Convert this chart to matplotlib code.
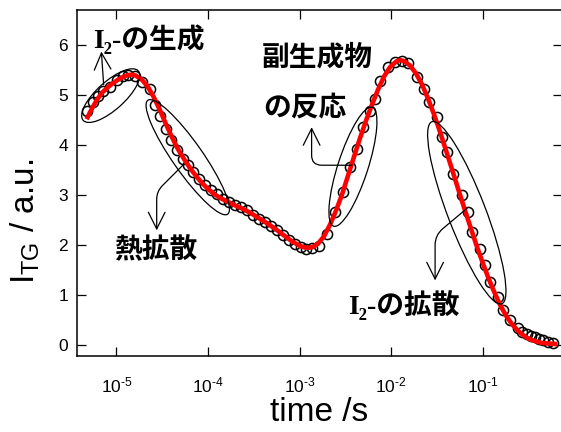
import numpy as np
import matplotlib
matplotlib.use('Agg')
import matplotlib.pyplot as plt
from matplotlib.patches import Ellipse
from matplotlib.transforms import ScaledTranslation
from matplotlib.ticker import NullLocator

# ---------------- data (log10 of time in s, signal in a.u.) ----------------
log_t = [-5.325, -5.259, -5.204, -5.150, -5.073, -4.997, -4.931, -4.877, -4.800, -4.723,
         -4.636, -4.581, -4.527, -4.461, -4.407, -4.341, -4.275, -4.221, -4.166, -4.101,
         -4.035, -3.969, -3.904, -3.838, -3.773, -3.707, -3.642, -3.576, -3.510, -3.445,
         -3.379, -3.314, -3.248, -3.183, -3.117, -3.051, -2.986, -2.931, -2.866, -2.789,
         -2.702, -2.614, -2.527, -2.450, -2.374, -2.308, -2.232, -2.177, -2.122, -2.035,
         -1.958, -1.882, -1.816, -1.718, -1.642, -1.587, -1.499, -1.445, -1.390, -1.325,
         -1.226, -1.161, -1.117, -1.030, -0.975, -0.920, -0.833, -0.778, -0.702, -0.614,
         -0.570, -0.516, -0.472, -0.428, -0.385, -0.341, -0.286, -0.232]
itg = [4.68, 4.85, 4.98, 5.08, 5.15, 5.30, 5.38, 5.40, 5.38, 5.25,
       5.12, 4.80, 4.58, 4.32, 4.10, 3.90, 3.72, 3.60, 3.45, 3.32,
       3.20, 3.10, 3.01, 2.92, 2.86, 2.80, 2.75, 2.69, 2.60, 2.52,
       2.46, 2.38, 2.29, 2.20, 2.10, 2.02, 1.96, 1.92, 1.94, 1.98,
       2.22, 2.65, 3.05, 3.55, 3.92, 4.35, 4.68, 4.92, 5.28, 5.55,
       5.66, 5.67, 5.64, 5.35, 5.12, 4.85, 4.55, 4.15, 3.85, 3.42,
       2.99, 2.65, 2.26, 1.92, 1.59, 1.26, 0.96, 0.69, 0.49, 0.33,
       0.25, 0.22, 0.17, 0.15, 0.11, 0.09, 0.06, 0.04]

fit_log_t = [-5.314, -5.259, -5.204, -5.150, -5.073, -4.997, -4.931, -4.877, -4.833, -4.789,
             -4.723, -4.658, -4.592, -4.527, -4.461, -4.396, -4.330, -4.264, -4.199, -4.133,
             -4.068, -4.002, -3.937, -3.871, -3.784, -3.696, -3.609, -3.521, -3.434, -3.346,
             -3.259, -3.172, -3.084, -2.997, -2.931, -2.866, -2.800, -2.734, -2.669, -2.603,
             -2.538, -2.472, -2.406, -2.341, -2.275, -2.210, -2.144, -2.079, -2.013, -1.947,
             -1.904, -1.860, -1.794, -1.729, -1.663, -1.598, -1.532, -1.466, -1.401, -1.335,
             -1.270, -1.204, -1.138, -1.073, -1.007, -0.942, -0.876, -0.811, -0.745, -0.680,
             -0.614, -0.548, -0.483, -0.417, -0.352, -0.210]
fit_itg = [4.55, 4.75, 4.92, 5.05, 5.18, 5.28, 5.35, 5.39, 5.40, 5.38,
           5.30, 5.16, 4.95, 4.70, 4.42, 4.16, 3.92, 3.72, 3.54, 3.38,
           3.24, 3.12, 3.02, 2.94, 2.86, 2.78, 2.71, 2.62, 2.52, 2.42,
           2.31, 2.19, 2.07, 1.98, 1.94, 1.95, 2.02, 2.17, 2.40, 2.68,
           3.00, 3.38, 3.76, 4.13, 4.48, 4.80, 5.10, 5.36, 5.55, 5.66,
           5.69, 5.67, 5.58, 5.42, 5.20, 4.92, 4.60, 4.25, 3.88, 3.50,
           3.12, 2.74, 2.37, 2.01, 1.67, 1.35, 1.06, 0.80, 0.58, 0.41,
           0.28, 0.18, 0.11, 0.07, 0.04, 0.02]

x_ticks = [1e-5, 1e-4, 1e-3, 1e-2, 1e-1]
x_tick_labels = [r'$\mathdefault{10^{\text{-5}}}$', r'$\mathdefault{10^{\text{-4}}}$',
                 r'$\mathdefault{10^{\text{-3}}}$', r'$\mathdefault{10^{\text{-2}}}$',
                 r'$\mathdefault{10^{\text{-1}}}$']
y_ticks = [0, 1, 2, 3, 4, 5, 6]

# annotations: (text, log10 t, y)
labels = [("I\u2082-の生成", -5.259, 6.10),
          ("副生成物", -3.412, 5.73),
          ("の反応", -3.401, 4.73),
          ("熱拡散", -5.030, 1.87),
          ("I\u2082-の拡散", -2.471, 0.79)]
# ellipses: (log10 t centre, y centre, width in, height in, angle)
ellipses = [(-5.062, 4.98, 0.74, 0.28, 42),
            (-4.221, 3.75, 1.39, 0.30, -55),
            (-2.418, 3.56, 1.25, 0.30, 72),
            (-1.175, 2.64, 1.95, 0.38, -69)]
# arrows: (start log t, start y, tip log t, tip y, connection style)
arrows = [(-5.139, 5.20, -5.164, 5.86, "arc3"),
          (-4.275, 3.59, -4.560, 2.29, "angle,angleA=45,angleB=90,rad=8"),
          (-2.428, 3.59, -2.869, 4.35, "angle,angleA=0,angleB=90,rad=10"),
          (-1.172, 2.73, -1.521, 1.29, "angle,angleA=40,angleB=90,rad=10")]

plt.rcParams['font.family'] = ['Liberation Sans', 'DejaVu Sans']
plt.rcParams['mathtext.fontset'] = 'custom'
plt.rcParams['mathtext.rm'] = 'Liberation Sans'
plt.rcParams['mathtext.it'] = 'Liberation Sans:italic'
plt.rcParams['mathtext.bf'] = 'Liberation Sans:bold'

fig = plt.figure(figsize=(5.61, 4.32), dpi=100)
ax = fig.add_axes([77 / 561, 1 - 356 / 432, (561.8 - 77) / 561, (356 - 10) / 432])

ax.plot(10 ** np.array(log_t), itg, 'o', mfc='none', mec='black', ms=7.3, mew=1.1, zorder=2)
ax.plot(10 ** np.array(fit_log_t), fit_itg, '-', color='red', lw=3.3, zorder=3)

ax.set_xscale('log')
ax.set_xlim(10 ** -5.43, 10 ** -0.138)
ax.set_ylim(-0.22, 6.69)
ax.set_xticks(x_ticks)
ax.set_xticklabels(x_tick_labels)
ax.xaxis.set_minor_locator(NullLocator())
ax.set_yticks(y_ticks)
ax.tick_params(axis='both', direction='in', top=True, right=True, length=6.5, width=0.9,
               labelsize=12.5)
ax.tick_params(axis='x', pad=14)
ax.tick_params(axis='y', pad=6.5)
for s in ax.spines.values():
    s.set_linewidth(1.1)

ax.set_xlabel('time /s', fontsize=24, labelpad=1)
ax.set_ylabel(r'I$_{\mathdefault{TG}}$ / a.u.', fontsize=24)
ax.yaxis.set_label_coords(-0.072, 0.39)

jp_fam = ['Liberation Serif', 'DejaVu Serif', 'Noto Sans CJK JP']
for txt, lt, yv in labels:
    ax.text(10 ** lt, yv, txt, family=jp_fam, weight='bold', fontsize=20,
            ha='left', va='center', zorder=5)

for lt, yv, w, h, ang in ellipses:
    tr = fig.dpi_scale_trans + ScaledTranslation(10 ** lt, yv, ax.transData)
    ax.add_patch(Ellipse((0, 0), w, h, angle=ang, fill=False, edgecolor='black',
                         lw=0.9, transform=tr, clip_on=False, zorder=4))

for sl, sy, tl, ty, cs in arrows:
    ax.annotate('', xy=(10 ** tl, ty), xytext=(10 ** sl, sy),
                arrowprops=dict(arrowstyle='->,head_length=1.2,head_width=0.6',
                                mutation_scale=10, lw=0.9, color='black',
                                connectionstyle=cs, shrinkA=0, shrinkB=0))

fig.savefig('out.png', dpi=100)
